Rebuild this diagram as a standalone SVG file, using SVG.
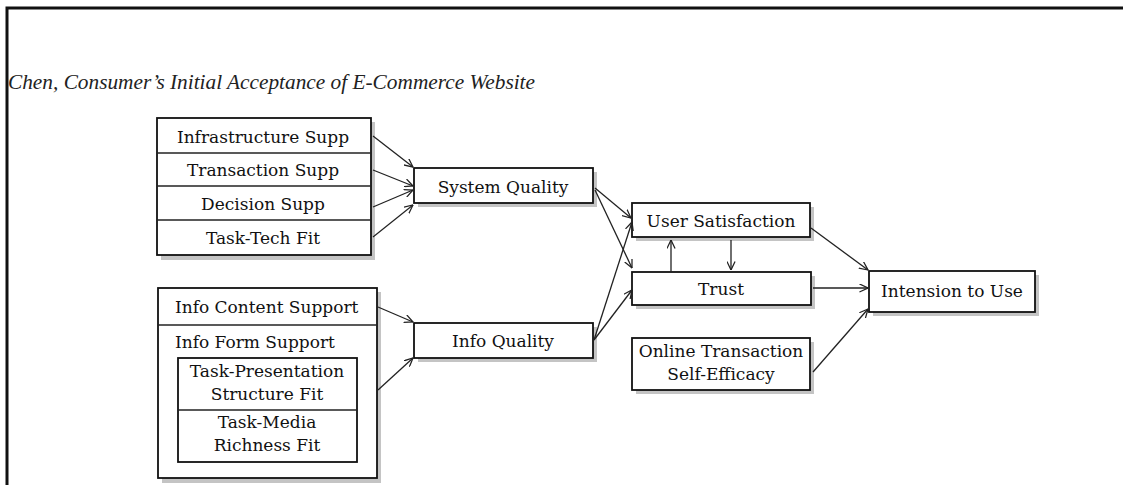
<svg xmlns="http://www.w3.org/2000/svg" width="1123" height="485" viewBox="0 0 1123 485">
<style>
.box{fill:#fff;stroke:#111;stroke-width:1.8}
.sh{fill:#c4c4c4}
.t{font-family:"DejaVu Serif","Liberation Serif",serif;font-size:17px;fill:#111}
.c{text-anchor:middle}
.ln{stroke:#222;stroke-width:1.4;fill:none}
.cn path,.cn line{stroke:#222;stroke-width:1.3;fill:none;marker-end:url(#ah)}
</style>
<defs>
<marker id="ah" viewBox="0 0 10 10" refX="9.5" refY="5" markerWidth="9" markerHeight="9" markerUnits="userSpaceOnUse" orient="auto">
<path d="M0,0.5 L9.5,5 L0,9.5" fill="none" stroke="#222" stroke-width="1.4"/>
</marker>
</defs>
<rect width="1123" height="485" fill="#fff"/>
<path d="M7,485 V8 H1123" fill="none" stroke="#111" stroke-width="3"/>
<text x="8" y="89" font-family="Liberation Serif,serif" font-style="italic" font-size="21" fill="#222" textLength="527" lengthAdjust="spacingAndGlyphs">Chen, Consumer’s Initial Acceptance of E-Commerce Website</text>

<g id="tech-support">
<rect class="sh" x="161" y="122" width="214" height="138"/>
<rect class="box" x="157" y="118" width="214" height="137"/>
<line class="ln" x1="157" y1="153" x2="371" y2="153"/>
<line class="ln" x1="157" y1="186" x2="371" y2="186"/>
<line class="ln" x1="157" y1="220" x2="371" y2="220"/>
<text class="t c" x="263" y="143">Infrastructure Supp</text>
<text class="t c" x="263" y="176">Transaction Supp</text>
<text class="t c" x="263" y="210">Decision Supp</text>
<text class="t c" x="263" y="244">Task-Tech Fit</text>
</g>

<g id="info-support">
<rect class="sh" x="162" y="292" width="219" height="191"/>
<rect class="box" x="158" y="288" width="219" height="190"/>
<line class="ln" x1="158" y1="325" x2="377" y2="325"/>
<text class="t" x="175" y="313">Info Content Support</text>
<text class="t" x="175" y="348">Info Form Support</text>
<rect class="box" x="178" y="358" width="179" height="104"/>
<line class="ln" x1="178" y1="410" x2="357" y2="410"/>
<text class="t c" x="267" y="377">Task-Presentation</text>
<text class="t c" x="267" y="400">Structure Fit</text>
<text class="t c" x="267" y="428">Task-Media</text>
<text class="t c" x="267" y="451">Richness Fit</text>
</g>

<g id="system-quality">
<rect class="sh" x="418" y="172" width="179" height="35"/>
<rect class="box" x="414" y="168" width="179" height="35"/>
<text class="t c" x="503" y="193">System Quality</text>
</g>

<g id="info-quality">
<rect class="sh" x="418" y="327" width="179" height="35"/>
<rect class="box" x="414" y="323" width="179" height="35"/>
<text class="t c" x="503" y="347">Info Quality</text>
</g>

<g id="user-satisfaction">
<rect class="sh" x="636" y="207" width="178" height="34"/>
<rect class="box" x="632" y="203" width="178" height="34"/>
<text class="t c" x="721" y="227">User Satisfaction</text>
</g>

<g id="trust">
<rect class="sh" x="636" y="276" width="179" height="33"/>
<rect class="box" x="632" y="272" width="179" height="33"/>
<text class="t c" x="721" y="295">Trust</text>
</g>

<g id="self-efficacy">
<rect class="sh" x="636" y="342" width="178" height="52"/>
<rect class="box" x="632" y="338" width="178" height="52"/>
<text class="t c" x="721" y="357">Online Transaction</text>
<text class="t c" x="721" y="380">Self-Efficacy</text>
</g>

<g id="intension">
<rect class="sh" x="873" y="275" width="166" height="41"/>
<rect class="box" x="869" y="271" width="166" height="41"/>
<text class="t c" x="952" y="297">Intension to Use</text>
</g>

<g id="connectors" class="cn">
<line x1="373" y1="136" x2="413" y2="167"/>
<line x1="373" y1="170" x2="413" y2="186"/>
<line x1="373" y1="207" x2="413" y2="190"/>
<line x1="373" y1="237" x2="413" y2="205"/>
<line x1="378" y1="307" x2="413" y2="322"/>
<line x1="378" y1="390" x2="413" y2="358"/>
<line x1="595" y1="188" x2="631" y2="218"/>
<line x1="595" y1="190" x2="632" y2="268"/>
<line x1="594" y1="340" x2="632" y2="222"/>
<line x1="594" y1="340" x2="632" y2="290"/>
<line x1="671" y1="272" x2="671" y2="240"/>
<line x1="731" y1="240" x2="731" y2="270"/>
<line x1="811" y1="228" x2="868" y2="270"/>
<line x1="813" y1="288" x2="868" y2="288"/>
<line x1="813" y1="372" x2="868" y2="309"/>
</g>
</svg>
